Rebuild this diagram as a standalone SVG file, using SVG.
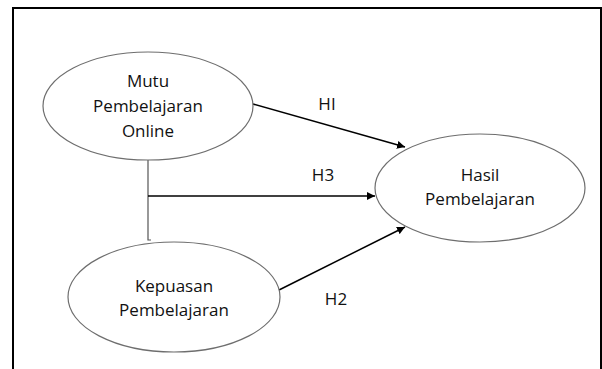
<svg xmlns="http://www.w3.org/2000/svg" width="602" height="369" viewBox="0 0 602 369">
<defs>
<style>
.node ellipse{fill:#fff;stroke:#6e6e6e;stroke-width:1.2}
text{font-family:"Open Sans","Liberation Sans",sans-serif;font-size:17px;fill:#111;text-anchor:middle}
.arrow{stroke:#000;stroke-width:1.5;fill:none}
.plain{stroke:#555;stroke-width:1.2;fill:none}
</style>
<marker id="ah" viewBox="0 0 10 10" refX="10" refY="5" markerWidth="8" markerHeight="8" markerUnits="userSpaceOnUse" orient="auto">
<path d="M0,0 L10,5 L0,10 z" fill="#000"/>
</marker>
</defs>
<rect width="602" height="369" fill="#fff"/>
<path d="M13,369 V8 H601 V369" fill="none" stroke="#000" stroke-width="2"/>
<g id="connectors">
<path class="plain" d="M148,160 V240 H151"/>
<path class="arrow" d="M148,196 H375" marker-end="url(#ah)"/>
<path class="arrow" d="M253,104 L405,147" marker-end="url(#ah)"/>
<path class="arrow" d="M277,291 L405,227" marker-end="url(#ah)"/>
<text x="327" y="110">HI</text>
<text x="323" y="181">H3</text>
<text x="336" y="305">H2</text>
</g>
<g id="mutu" class="node">
<ellipse cx="148" cy="106" rx="105" ry="54"/>
<text x="148" y="87">Mutu</text>
<text x="148" y="112">Pembelajaran</text>
<text x="148" y="137">Online</text>
</g>
<g id="kepuasan" class="node">
<ellipse cx="174" cy="297" rx="106" ry="55"/>
<text x="174" y="292">Kepuasan</text>
<text x="174" y="316">Pembelajaran</text>
</g>
<g id="hasil" class="node">
<ellipse cx="480" cy="188" rx="105" ry="54"/>
<text x="480" y="181">Hasil</text>
<text x="480" y="205">Pembelajaran</text>
</g>
</svg>
